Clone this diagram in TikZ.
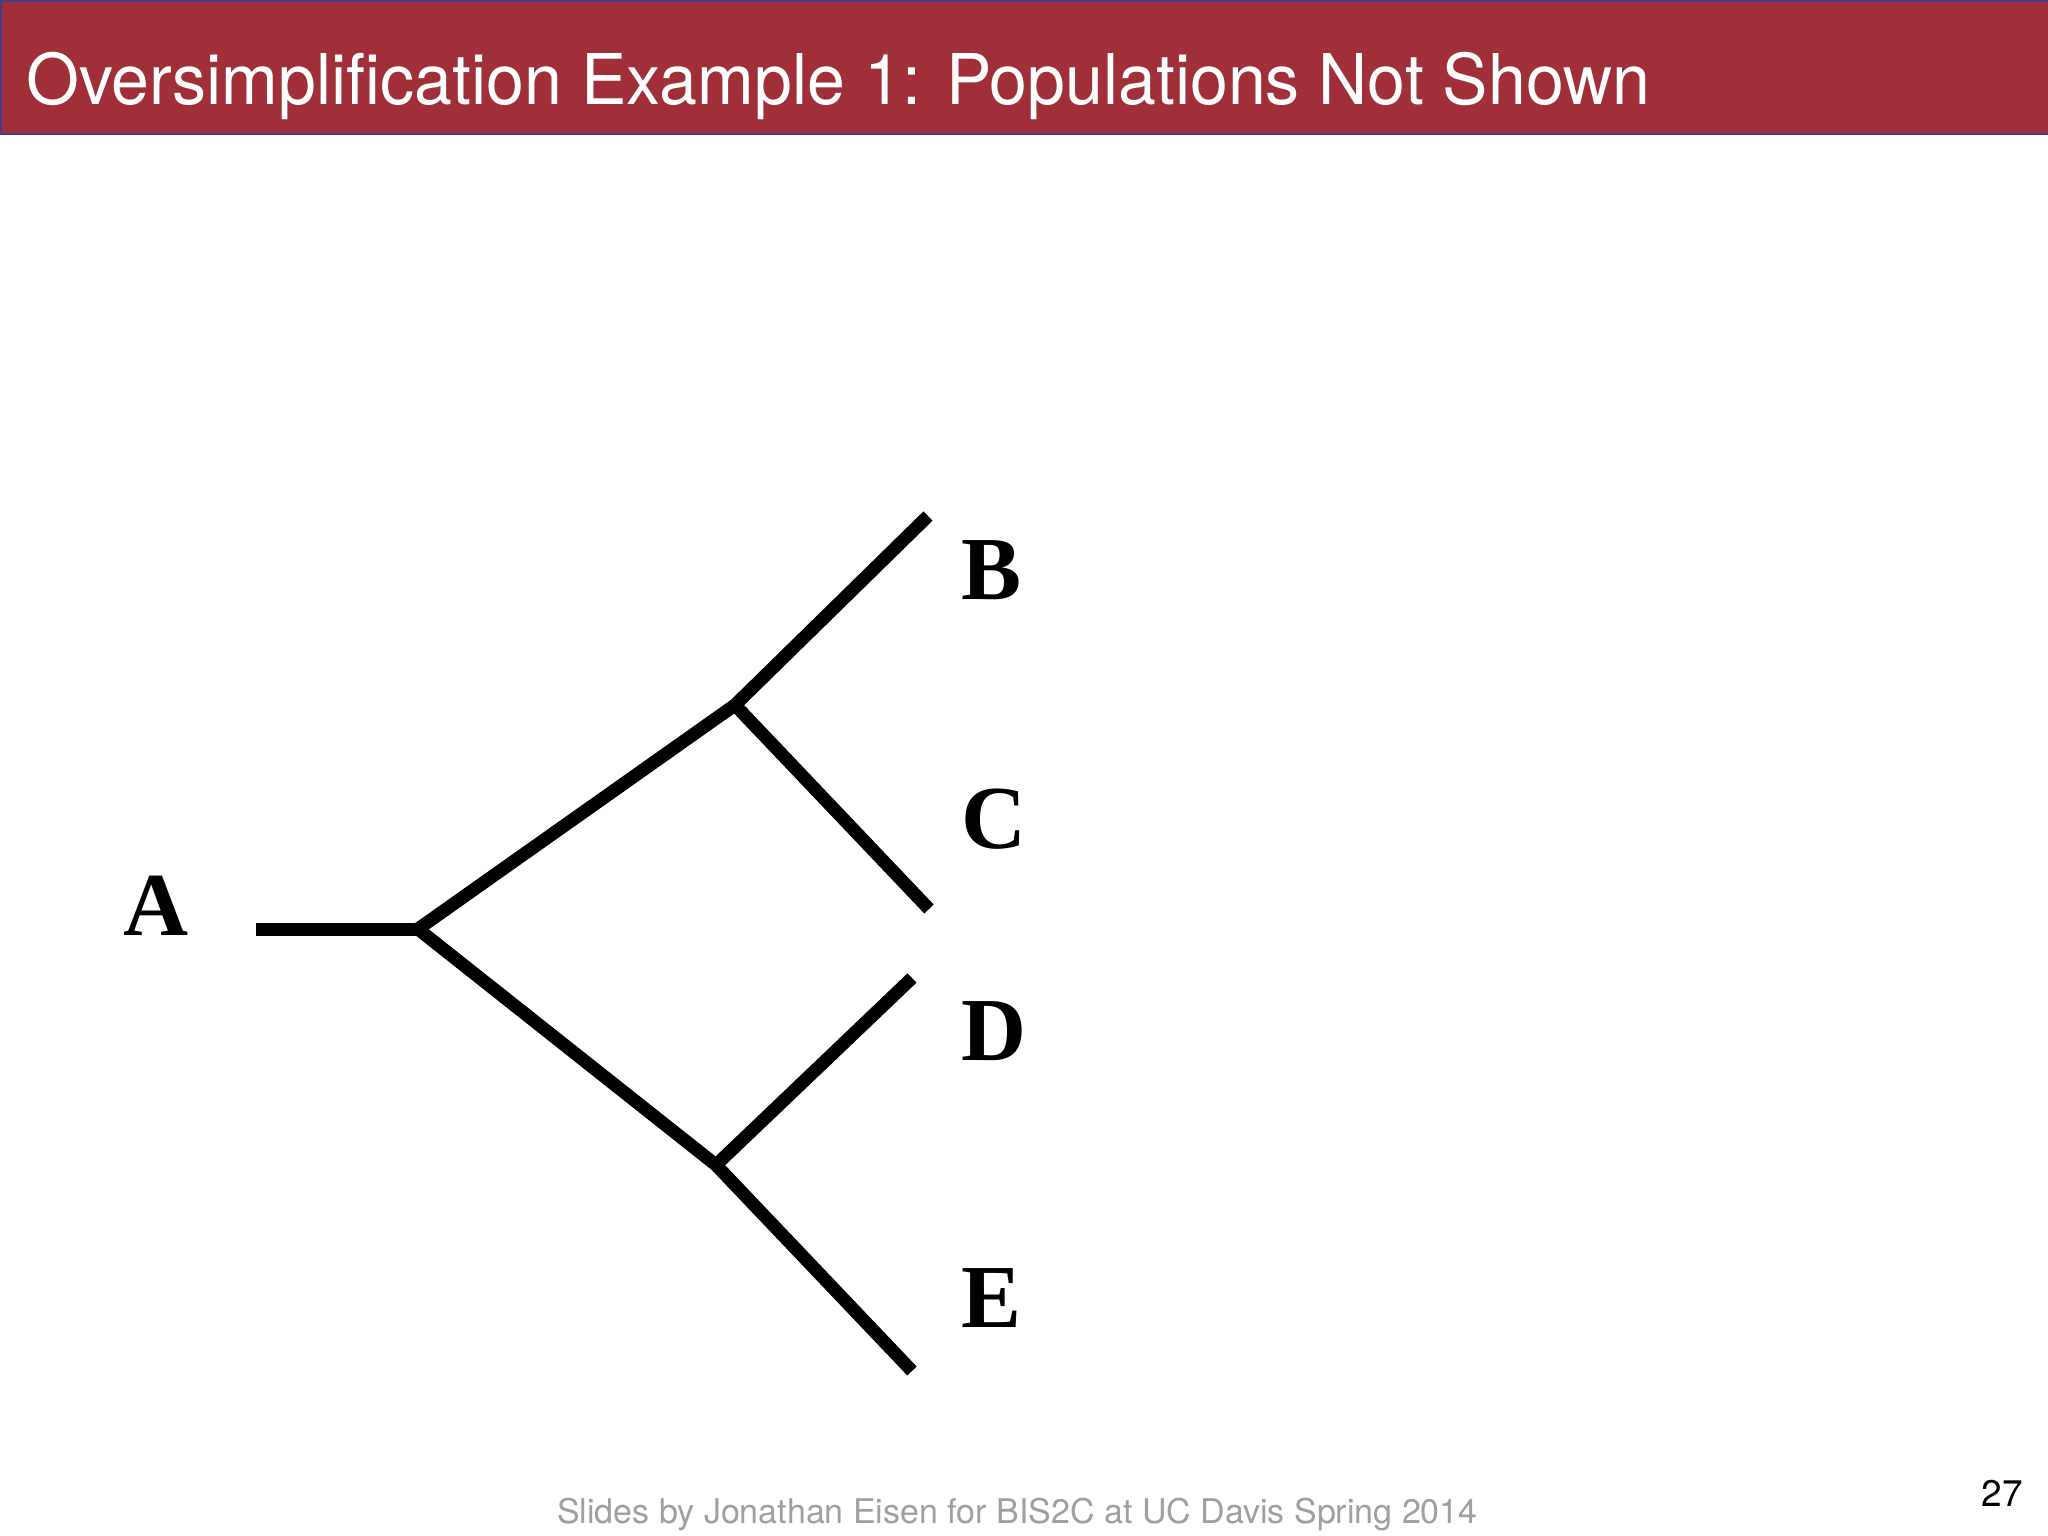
\documentclass[tikz,border=0pt]{standalone}
\usepackage{fontspec}
\setmainfont{Liberation Serif}
\newfontfamily\heros{TeX Gyre Heros}
\definecolor{barred}{RGB}{160,47,57}
\definecolor{barline}{RGB}{70,60,140}
\definecolor{footgray}{RGB}{160,160,160}
\tikzset{
  branch/.style={line width=13pt, black, line join=miter},
  taxon/.style={inner sep=0pt, anchor=base west, font=\fontsize{90}{100}\selectfont\bfseries},
}
\begin{document}
\begin{tikzpicture}[x=1pt,y=-1pt]
\useasboundingbox (0,0) rectangle (2048,1536);
\fill[white] (0,0) rectangle (2048,1536);
% title bar
\fill[barred] (0,0) rectangle (2048,135);
\draw[barline, line width=2pt] (0,1) -- (2048,1);
\draw[barline, line width=2.5pt] (0,134) -- (2048,134);
\draw[barline, line width=1.5pt] (1,0) -- (1,135);
\node[inner sep=0pt, anchor=base west, text=white, font=\heros\fontsize{70}{84}\selectfont] (title) at (26,105) {\scalebox{0.972}[1]{Oversimplification Example 1: Populations Not Shown}};
% tree
\coordinate (root0) at (256,929);
\coordinate (root) at (418,929);
\coordinate (up) at (735,705);
\coordinate (tB) at (928,516);
\coordinate (tC) at (929,909);
\coordinate (low) at (716,1165);
\coordinate (tD) at (912,978);
\coordinate (tE) at (912,1371);
\draw[branch] (root0) -- (root);
\draw[branch] (root) -- (up);
\draw[branch] (root) -- (low);
\draw[branch] (up) -- (tB);
\draw[branch] (up) -- (tC);
\draw[branch] (low) -- (tD);
\draw[branch] (low) -- (tE);
\node[taxon] (A) at (123,935) {A};
\node[taxon] (B) at (961,599) {B};
\node[taxon] (C) at (961,848) {C};
\node[taxon] (D) at (961,1060) {D};
\node[taxon] (E) at (961,1327) {E};
% footer
\node[inner sep=0pt, anchor=base west, text=footgray, font=\heros\fontsize{34}{40}\selectfont] (foot) at (557,1523) {Slides by Jonathan Eisen for BIS2C at UC Davis Spring 2014};
\node[inner sep=0pt, anchor=base east, font=\heros\fontsize{37}{42}\selectfont] (num) at (2023,1506) {27};
\end{tikzpicture}
\end{document}
